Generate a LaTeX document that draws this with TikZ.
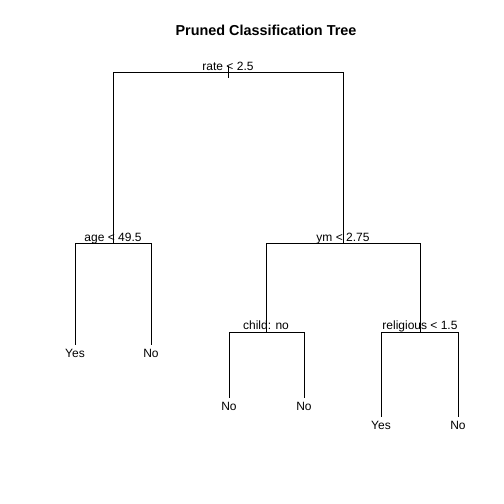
\documentclass[tikz,border=0pt]{standalone}
\usepackage{fontspec}
\setmainfont{Liberation Sans}
\usetikzlibrary{positioning}

\begin{document}
\begin{tikzpicture}[x=1pt, y=-1pt, line width=0.9pt,
    every node/.style={inner sep=0pt, font=\fontsize{12}{14}\selectfont},
    split/.style={anchor=base},
    leaf/.style={anchor=north, outer ysep=4.5pt}]
    \useasboundingbox (0,0) rectangle (504,504);
    \node [font=\fontsize{14.4}{17}\selectfont\bfseries, anchor=base] (title) at (266,35) {Pruned Classification Tree};

    % split points
    \coordinate (rate) at (228,72);
    \coordinate (age) at (113,243);
    \coordinate (ym) at (343,243);
    \coordinate (child) at (266,332);
    \coordinate (religious) at (420,332);

    \node (rate label) [above=2pt of rate, split] {rate < 2.5};
    \node (age label) [above=2pt of age, split] {age < 49.5};
    \node (ym label) [above=2pt of ym, split] {ym < 2.75};
    \node (child label) [above=3pt of child, split] {child: no};
    \node (religious label) [above=3pt of religious, split] {religious < 1.5};

    % leaves
    \node [leaf] (age yes) at (75,345) {Yes};
    \node [leaf] (age no) at (151,345) {No};
    \node [leaf] (child no1) at (229,398) {No};
    \node [leaf] (child no2) at (304,398) {No};
    \node [leaf] (religious yes) at (381,417) {Yes};
    \node [leaf] (religious no) at (458,417) {No};

    \draw ([yshift=6pt]rate) -- ([yshift=-6pt]rate);
    \draw (rate) -| (age);
    \draw (rate) -| (ym);
    \draw (age) -| (age yes);
    \draw (age) -| (age no);
    \draw (ym) -| (child);
    \draw (ym) -| (religious);
    \draw (child) -| (child no1);
    \draw (child) -| (child no2);
    \draw (religious) -| (religious yes);
    \draw (religious) -| (religious no);
\end{tikzpicture}
\end{document}
